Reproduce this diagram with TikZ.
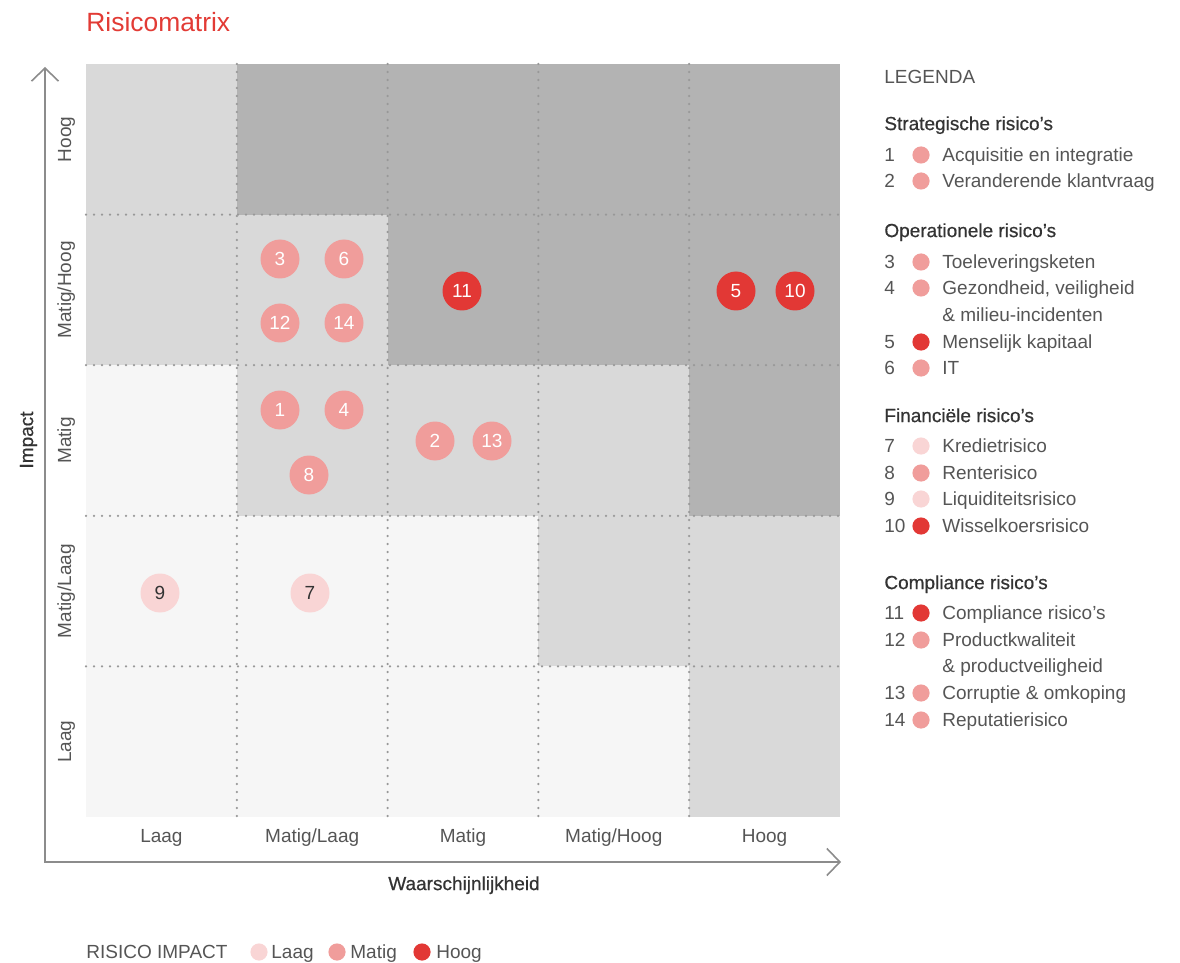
\documentclass[tikz,border=0pt]{standalone}
\usepackage{fontspec}
\setmainfont{Liberation Sans}
\newfontfamily\medium[FakeBold=0.6]{Liberation Sans}
\usetikzlibrary{arrows.meta}

\definecolor{titelrood}{HTML}{E23B35}
\definecolor{celLicht}{HTML}{F6F6F6}
\definecolor{celMidden}{HTML}{D9D9D9}
\definecolor{celDonker}{HTML}{B3B3B3}
\definecolor{risLaag}{HTML}{F9D5D5}
\definecolor{risMatig}{HTML}{F09D9B}
\definecolor{risHoog}{HTML}{E23835}
\definecolor{tekstgrijs}{HTML}{555555}
\definecolor{tekstdonker}{HTML}{333333}
\definecolor{asgrijs}{HTML}{8C8C8C}
\definecolor{stipgrijs}{HTML}{989898}

\begin{document}
\begin{tikzpicture}[x=0.5pt,y=-0.5pt,
    raster/.style={stipgrijs, line width=1.25pt, dash pattern=on 0pt off 4pt, line cap=round},
    as/.style={asgrijs, line width=0.8pt, {Straight Barb[length=6.5pt,width=13.5pt]}-{Straight Barb[length=6.5pt,width=13.5pt]}},
    label/.style={tekstgrijs, font=\fontsize{9.5}{11}\selectfont, inner sep=0pt, text height=1.6ex, text depth=0.45ex},
    kop/.style={tekstdonker, font=\medium\fontsize{9.5}{11}\selectfont, inner sep=0pt, anchor=west, text height=1.6ex, text depth=0.45ex},
    risico/.style={circle, minimum size=19.5pt, inner sep=0pt, text=white, font=\fontsize{9.5}{11}\selectfont},
    stip/.style={circle, minimum size=8.6pt, inner sep=0pt}]

    \useasboundingbox (0,0) rectangle (1180,963);

    % Titel
    \node[anchor=west, titelrood, font=\fontsize{13.2}{16}\selectfont, inner sep=0pt] (titel) at (86,22) {Risicomatrix};

    % Matrix vlakken
    \fill[celLicht] (86,64) rectangle (840,817);
    \foreach \k/\r in {0/0,0/1,1/1,1/2,2/2,3/2,3/3,4/3,4/4}
        \fill[celMidden] ({86+150.8*\k},{64+150.6*\r}) rectangle +(150.8,150.6);
    \foreach \k/\r in {1/0,2/0,3/0,4/0,2/1,3/1,4/1,4/2}
        \fill[celDonker] ({86+150.8*\k},{64+150.6*\r}) rectangle +(150.8,150.6);

    % Stippellijnen
    \foreach \i in {1,...,4} {
        \draw[raster] ({86+150.8*\i},64) -- ({86+150.8*\i},817);
        \draw[raster] (86,{64+150.6*\i}) -- (840,{64+150.6*\i});
    }

    % Assen
    \coordinate (ytop) at (45,67);
    \coordinate (oorsprong) at (45,862);
    \coordinate (xeind) at (841,862);
    \draw[as] (ytop) -- (oorsprong) -- (xeind);
    \node[kop, anchor=center, rotate=90] (impact) at (27,440) {Impact};
    \node[kop, anchor=center] (kans) at (464,884) {Waarschijnlijkheid};

    % Labels rijen en kolommen
    \foreach \t [count=\i from 0] in {Hoog,Matig/Hoog,Matig,Matig/Laag,Laag} {
        \node[label, rotate=90] (rij-\i) at (65,{139.3+150.6*\i}) {\t};
    }
    \foreach \t [count=\i from 0] in {Laag,Matig/Laag,Matig,Matig/Hoog,Hoog} {
        \node[label] (kol-\i) at ({161.4+150.8*\i},836) {\t};
    }

    % Risico's in de matrix
    \node[risico, fill=risMatig] (r3) at (280,259) {3};
    \node[risico, fill=risMatig] (r6) at (344,259) {6};
    \node[risico, fill=risMatig] (r12) at (280,323) {12};
    \node[risico, fill=risMatig] (r14) at (344,323) {14};
    \node[risico, fill=risHoog] (r11) at (462,291) {11};
    \node[risico, fill=risHoog] (r5) at (736,291) {5};
    \node[risico, fill=risHoog] (r10) at (795,291) {10};
    \node[risico, fill=risMatig] (r1) at (280,410) {1};
    \node[risico, fill=risMatig] (r4) at (344,410) {4};
    \node[risico, fill=risMatig] (r8) at (309,475) {8};
    \node[risico, fill=risMatig] (r2) at (435,441) {2};
    \node[risico, fill=risMatig] (r13) at (492,441) {13};
    \node[risico, fill=risLaag, text=tekstdonker] (r9) at (160,593) {9};
    \node[risico, fill=risLaag, text=tekstdonker] (r7) at (310,593) {7};

    % Legenda
    \node[label, anchor=west] (legenda) at (884,77) {LEGENDA};
    \node[kop] (kop-strat) at (884,124) {Strategische risico’s};
    \node[kop] (kop-oper) at (884,231) {Operationele risico’s};
    \node[kop] (kop-fin) at (884,416) {Financiële risico’s};
    \node[kop] (kop-comp) at (884,583) {Compliance risico’s};
    \foreach \nr/\y/\kleur/\tekst in {1/155/risMatig/Acquisitie en integratie,
            2/181/risMatig/Veranderende klantvraag,
            3/262/risMatig/Toeleveringsketen,
            4/288/risMatig/{Gezondheid, veiligheid},
            5/342/risHoog/Menselijk kapitaal,
            6/368/risMatig/IT,
            7/446/risLaag/Kredietrisico,
            8/473/risMatig/Renterisico,
            9/499/risLaag/Liquiditeitsrisico,
            10/526/risHoog/Wisselkoersrisico,
            11/613/risHoog/Compliance risico’s,
            12/640/risMatig/Productkwaliteit,
            13/693/risMatig/Corruptie \& omkoping,
            14/720/risMatig/Reputatierisico} {
        \node[label, anchor=west] (nr-\nr) at (884,\y) {\nr};
        \node[stip, fill=\kleur] (stip-\nr) at (921,\y) {};
        \node[label, anchor=west] (item-\nr) at (942,\y) {\tekst};
    }
    \node[label, anchor=west] (item-4b) at (942,315) {\& milieu-incidenten};
    \node[label, anchor=west] (item-12b) at (942,666) {\& productveiligheid};

    % Risico impact
    \node[label, anchor=west] (impactlegenda) at (86,952) {RISICO IMPACT};
    \node[stip, fill=risLaag] (stip-laag) at (259,952) {};
    \node[label, anchor=west] (imp-laag) at (271,952) {Laag};
    \node[stip, fill=risMatig] (stip-matig) at (337,952) {};
    \node[label, anchor=west] (imp-matig) at (350,952) {Matig};
    \node[stip, fill=risHoog] (stip-hoog) at (422,952) {};
    \node[label, anchor=west] (imp-hoog) at (436,952) {Hoog};

\end{tikzpicture}
\end{document}
